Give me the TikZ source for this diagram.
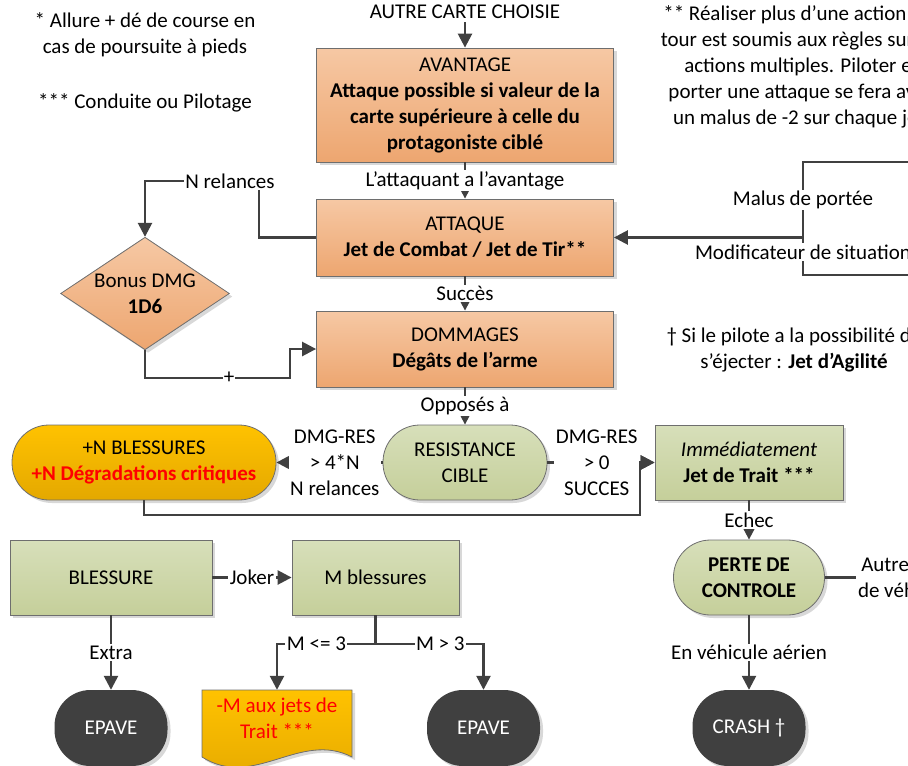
\documentclass[tikz,border=0pt]{standalone}
\usepackage{fontspec}
\setmainfont{Carlito}
\usetikzlibrary{arrows.meta,shapes.geometric,shadows,positioning}

\definecolor{orangehaut}{RGB}{246,200,164}
\definecolor{orangebas}{RGB}{237,166,112}
\definecolor{verthaut}{RGB}{215,223,186}
\definecolor{vertbas}{RGB}{197,207,154}
\definecolor{orhaut}{RGB}{255,194,0}
\definecolor{orbas}{RGB}{228,168,0}
\definecolor{sombre}{RGB}{64,64,64}
\definecolor{bordure}{RGB}{110,110,110}
\definecolor{fil}{RGB}{64,64,64}
\definecolor{rouge}{RGB}{255,0,0}

\begin{document}
\begin{tikzpicture}[x=1pt,y=-1pt,font=\fontsize{21}{26}\selectfont]
        \tikzset{
            ombre/.style={drop shadow={shadow xshift=3pt,shadow yshift=-3pt,fill=black!30,opacity=0.5}},
            boiteorange/.style={rectangle, draw=bordure, line width=0.8pt, top color=orangehaut, bottom color=orangebas, align=center, ombre},
            boiteverte/.style={rectangle, draw=bordure, line width=0.8pt, top color=verthaut, bottom color=vertbas, align=center, ombre},
            pilule/.style={rectangle, rounded corners=37pt, draw=bordure, line width=0.8pt, align=center, minimum height=75pt, ombre},
            finale/.style={rectangle, rounded corners=36pt, fill=sombre, text=white, minimum width=113pt, minimum height=76pt, ombre},
            fleche/.style={draw=fil, line width=2.5pt, -{Triangle[length=14pt,width=14pt]}},
            liaison/.style={draw=fil, line width=2.5pt},
            etiquette/.style={fill=white, inner sep=1.5pt, align=center},
            note/.style={align=center}
        }
        \useasboundingbox (0,0) rectangle (908,766);
        \clip (0,0) rectangle (908,766);

        % notes
        \node[note] (titre) at (465,12) {AUTRE CARTE CHOISIE};
        \node[note] (noteallure) at (145,35) {* Allure + dé de course en\\cas de poursuite à pieds};
        \node[note] (notepilotage) at (145,103) {*** Conduite ou Pilotage};
        \node[note] (noteactions) at (801.5,66.5) {** Réaliser plus d’une action par\\tour est soumis aux règles sur les\\actions multiples. Piloter et\\porter une attaque se fera avec\\un malus de -2 sur chaque jet.};
        \node[note] (noteejection) at (794,349.5) {† Si le pilote a la possibilité de\\s’éjecter : \textbf{Jet d’Agilité}};

        % boites
        \node[boiteorange, minimum width=297pt, minimum height=114pt] (avantage) at (465,105) {AVANTAGE\\\textbf{Attaque possible si valeur de la}\\\textbf{carte supérieure à celle du}\\\textbf{protagoniste ciblé}};
        \node[boiteorange, minimum width=297pt, minimum height=77pt] (attaque) at (465,237.5) {ATTAQUE\\\textbf{Jet de Combat / Jet de Tir**}};
        \node[boiteorange, minimum width=297pt, minimum height=76pt] (dommages) at (465,349) {DOMMAGES\\\textbf{Dégâts de l’arme}};
        \node[diamond, aspect=1.5, inner sep=1.5pt, draw=bordure, line width=0.8pt, top color=orangehaut, bottom color=orangebas, align=center, ombre] (bonus) at (145,293.5) {Bonus DMG\\\textbf{1D6}};

        \node[pilule, top color=verthaut, bottom color=vertbas, minimum width=164pt] (resistance) at (465,462.5) {RESISTANCE\\CIBLE};
        \node[pilule, top color=orhaut, bottom color=orbas, minimum width=264pt] (blessures) at (144,462.5) {+N BLESSURES\\\textcolor{rouge}{\textbf{+N Dégradations critiques}}};
        \node[boiteverte, minimum width=188pt, minimum height=75pt] (immediat) at (749,462.5) {\textit{Immédiatement}\\\textbf{Jet de Trait ***}};
        \node[pilule, top color=verthaut, bottom color=vertbas, minimum width=151pt] (perte) at (749,577.5) {\textbf{PERTE DE}\\\textbf{CONTROLE}};

        \node[boiteverte, minimum width=202pt, minimum height=75pt] (blessure) at (111,577.5) {BLESSURE};
        \node[boiteverte, minimum width=167pt, minimum height=75pt] (mblessures) at (375.5,577.5) {M blessures};

        \node[finale] (epavea) at (111,728) {EPAVE};
        \node[finale] (epaveb) at (483.5,728) {EPAVE};
        \node[finale] (crash) at (749,728) {CRASH †};

        \path[draw=bordure, line width=0.8pt, top color=orhaut, bottom color=orbas, ombre] (202,690) -- (352,690) -- (352,757) .. controls (300,730) and (254,790) .. (202,757) -- cycle;
        \node[minimum width=150pt, minimum height=57pt, align=center, text=rouge] (malusm) at (277,718.5) {-M aux jets de\\Trait ***};

        % liaisons
        \draw[fleche] (titre) -- (avantage);
        \draw[fleche] (avantage) -- node[etiquette] (lavantage) {L’attaquant a l’avantage} (attaque);
        \draw[fleche] (attaque) -- node[etiquette] (lsucces) {Succès} (dommages);
        \draw[fleche] (dommages) -- node[etiquette] (loppose) {Opposés à} (resistance);
        \draw[fleche] (resistance) -- node[etiquette, pos=0.45] (lrelances) {DMG-RES\\> 4*N\\N relances} (blessures);
        \draw[fleche] (resistance) -- node[etiquette, pos=0.46] (lsuccesres) {DMG-RES\\> 0\\SUCCES} (immediat);

        \coordinate (jonctionb) at (640,515);
        \draw[fleche] (blessures.south) |- (jonctionb) |- (immediat.west);

        \draw[fleche] (immediat) -- node[etiquette] (lechec) {Echec} (perte);
        \node[etiquette] (autre) at (906.5,577.5) {Autre type\\de véhicule};
        \draw[liaison] (perte) -- (autre);
        \draw[fleche] (perte) -- node[etiquette] (laerien) {En véhicule aérien} (crash);

        \coordinate (coinrelance) at (259,181);
        \draw[fleche] (attaque.west) -| (coinrelance) -| (bonus.north);
        \node[etiquette] (nrelances) at (230,181) {N relances};

        \coordinate (coinplus) at (290,378);
        \draw[fleche] (bonus.south) |- (coinplus) |- (dommages.west);
        \node[etiquette, inner sep=0.5pt] (lplus) at (229,378) {+};

        \coordinate (malusportee) at (920,162);
        \coordinate (modifsituation) at (920,275);
        \coordinate (jonctiona) at (803,237.5);
        \draw[fleche] (malusportee) -| (jonctiona) -- (attaque.east);
        \draw[liaison] (modifsituation) -| (jonctiona);
        \node[etiquette] (lmalus) at (803,200) {Malus de portée};
        \node[etiquette] (lmodif) at (803,252) {Modificateur de situation};

        \draw[fleche] (blessure) -- node[etiquette] (ljoker) {Joker} (mblessures);
        \draw[fleche] (blessure) -- node[etiquette] (lextra) {Extra} (epavea);
        \coordinate (jonctionm) at (375.5,644);
        \draw[liaison] (mblessures) -- (jonctionm);
        \draw[fleche] (jonctionm) -| node[etiquette, pos=0.3] (lmoins) {M <= 3} (malusm.north);
        \draw[fleche] (jonctionm) -| node[etiquette, pos=0.3] (lplusm) {M > 3} (epaveb.north);

    \end{tikzpicture}
\end{document}
